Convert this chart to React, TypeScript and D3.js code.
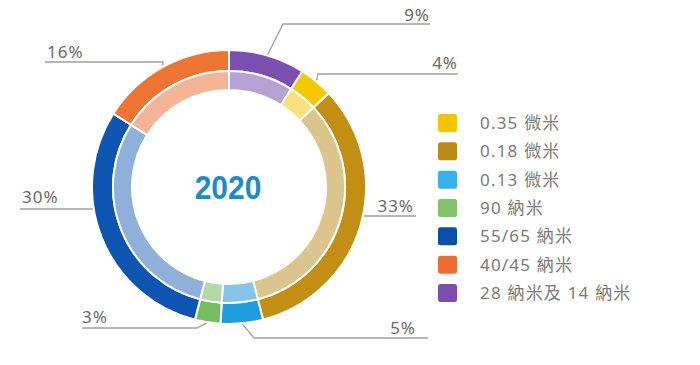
import React from "react";
import * as d3 from "d3";

const categories = ["28 納米及 14 納米", "0.35 微米", "0.18 微米", "0.13 微米", "90 納米", "55/65 納米", "40/45 納米"];
const values = [9, 4, 33, 5, 3, 30, 16];
const legendOrder = ["0.35 微米", "0.18 微米", "0.13 微米", "90 納米", "55/65 納米", "40/45 納米", "28 納米及 14 納米"];
const centerLabel = "2020";

const darkColors: Record<string, string> = {
  "28 納米及 14 納米": "#7a4fae",
  "0.35 微米": "#f6c800",
  "0.18 微米": "#c38e14",
  "0.13 微米": "#1e9ee0",
  "90 納米": "#76bd62",
  "55/65 納米": "#0d55b0",
  "40/45 納米": "#ee7434",
};
const lightColors: Record<string, string> = {
  "28 納米及 14 納米": "#b6a1d3",
  "0.35 微米": "#f7e27e",
  "0.18 微米": "#dcc48d",
  "0.13 微米": "#86c5ea",
  "90 納米": "#b5d9a5",
  "55/65 納米": "#8fb0d9",
  "40/45 納米": "#f4b496",
};
const legendColors: Record<string, string> = {
  "0.35 微米": "#f5c400",
  "0.18 微米": "#bd8a16",
  "0.13 微米": "#38b0ea",
  "90 納米": "#80c26c",
  "55/65 納米": "#0b4ea8",
  "40/45 納米": "#ec6e34",
  "28 納米及 14 納米": "#7a4dae",
};

// label layout (positions only)
const labelLayout: Record<string, { lineY: number; elbowX: number | null; endX: number; textX: number; textY: number; anchor: "start" | "end" }> = {
  "28 納米及 14 納米": { lineY: 24, elbowX: 283, endX: 430, textX: 430, textY: 21, anchor: "end" },
  "0.35 微米": { lineY: 74, elbowX: 318, endX: 458, textX: 458, textY: 69, anchor: "end" },
  "0.18 微米": { lineY: 216, elbowX: null, endX: 416, textX: 414, textY: 212, anchor: "end" },
  "0.13 微米": { lineY: 338, elbowX: 254, endX: 428, textX: 416, textY: 334, anchor: "end" },
  "90 納米": { lineY: 328, elbowX: 197, endX: 82, textX: 82, textY: 323, anchor: "start" },
  "55/65 納米": { lineY: 209, elbowX: null, endX: 20, textX: 22, textY: 203, anchor: "start" },
  "40/45 納米": { lineY: 62, elbowX: 163, endX: 45, textX: 47, textY: 58, anchor: "start" },
};

const W = 700;
const H = 365;
const cx = 229;
const cy = 187;
const R = 137;
const Rmid = 116;
const Rin = 97;

export default function App() {
  const data = categories.map((c, i) => ({ c, v: values[i] }));
  const pie = d3.pie<{ c: string; v: number }>().value((d) => d.v).sort(null).startAngle(0).endAngle(2 * Math.PI);
  const arcs = pie(data);
  const outerArc = d3.arc<d3.PieArcDatum<{ c: string; v: number }>>().innerRadius(Rmid).outerRadius(R);
  const innerArc = d3.arc<d3.PieArcDatum<{ c: string; v: number }>>().innerRadius(Rin).outerRadius(Rmid);

  const legendY = d3.scalePoint<string>().domain(legendOrder).range([123, 293]);

  const leaders = arcs.map((a) => {
    const L = labelLayout[a.data.c];
    const mid = (a.startAngle + a.endAngle) / 2;
    let pts: [number, number][];
    if (L.elbowX === null) {
      const dy = L.lineY - cy;
      const dx = Math.sqrt(R * R - dy * dy);
      const sx = L.endX > cx ? cx + dx : cx - dx;
      pts = [[sx, L.lineY], [L.endX, L.lineY]];
    } else {
      const p: [number, number] = [cx + R * Math.sin(mid), cy - R * Math.cos(mid)];
      pts = [p, [L.elbowX, L.lineY], [L.endX, L.lineY]];
    }
    return { c: a.data.c, v: a.data.v, L, path: d3.line()(pts) as string };
  });

  return (
    <svg width={W} height={H} style={{ position: "absolute", left: 0, top: 0, background: "#fff" }}>
      <g>
        {leaders.map((l) => (
          <path key={"l" + l.c} d={l.path} fill="none" stroke="#a0a0a0" strokeWidth={1.3} />
        ))}
      </g>
      <g transform={`translate(${cx},${cy})`}>
        {arcs.map((a) => (
          <g key={a.data.c}>
            <path d={outerArc(a) as string} fill={darkColors[a.data.c]} stroke="#fff" strokeWidth={2} />
            <path d={innerArc(a) as string} fill={lightColors[a.data.c]} stroke="#fff" strokeWidth={2} />
          </g>
        ))}
        <g transform="translate(-1,12) scale(0.88,1)">
          <text
            x={0}
            y={0}
            textAnchor="middle"
            fontFamily="'Liberation Sans', Arial, sans-serif"
            fontWeight="bold"
            fontSize={34}
            fill="#1a8ccc"
          >
            {centerLabel}
          </text>
        </g>
      </g>
      <g>
        {leaders.map((l) => (
          <text
            key={"t" + l.c}
            x={l.L.textX}
            y={l.L.textY}
            textAnchor={l.L.anchor}
            fontFamily="'Noto Sans', sans-serif"
            fontSize={17}
            letterSpacing={1}
            fill="#6a6a6a"
          >
            {l.v}%
          </text>
        ))}
      </g>
      <g>
        {legendOrder.map((c) => (
          <g key={"lg" + c} transform={`translate(438,${legendY(c)})`}>
            <rect x={0} y={-9} width={19} height={18} rx={2.5} fill={legendColors[c]} />
            <text
              x={42}
              y={6}
              fontFamily="'Noto Sans', 'Noto Sans CJK TC', sans-serif"
              fontSize={17}
              letterSpacing={1.2}
              fill="#7a7a7a"
            >
              {c}
            </text>
          </g>
        ))}
      </g>
    </svg>
  );
}
